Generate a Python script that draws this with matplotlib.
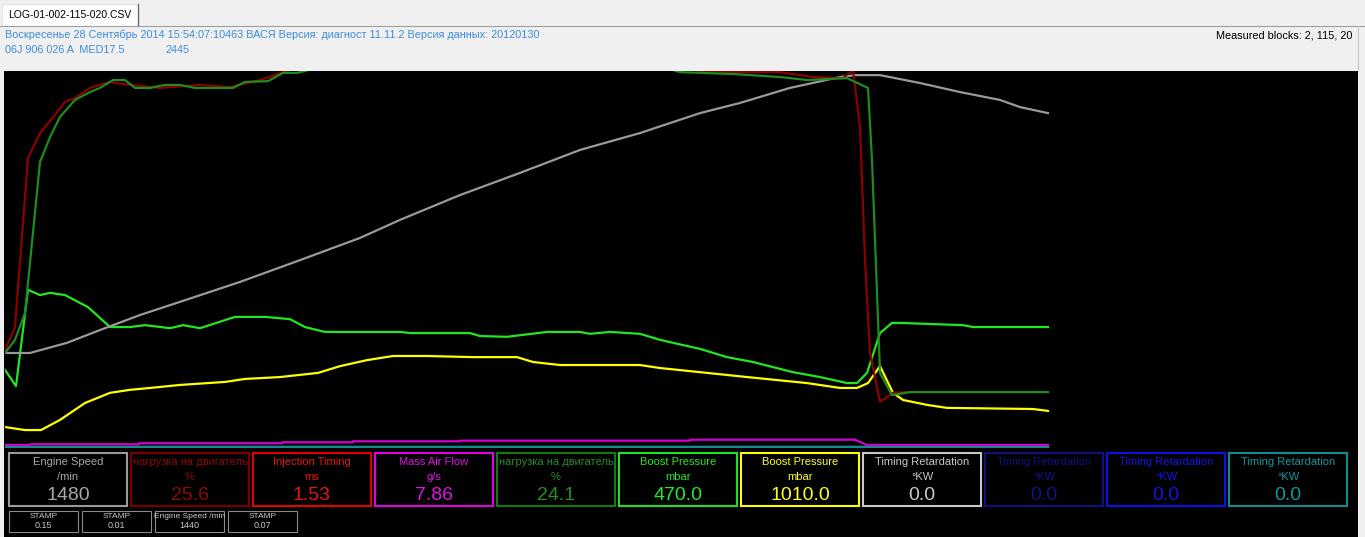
import matplotlib.pyplot as plt
from matplotlib.patches import Rectangle

#==============================================================================
#DATA  (time in s, values in % of the trace window height)
#==============================================================================

speed_t = [0, 1.25, 3.1, 4.75, 6.75, 8.75, 11.75, 14.75, 17.75, 19.75, 22.75, 25.75,
           28.75, 31.75, 34.75, 36.75, 39.25, 41.75, 42.5, 43.75, 45.75, 47.75,
           49.75, 50.75, 52.15]
speed_v = [25.0, 25.0, 27.7, 31.1, 35.1, 38.6, 43.9, 49.7, 55.6, 60.4, 67.0, 72.9,
           79.0, 83.5, 88.8, 91.5, 95.5, 98.4, 98.9, 98.9, 96.8, 94.4, 92.3, 90.4, 88.8]

load1_t = [0, 0.5, 1.15, 1.75, 2.5, 3.0, 3.5, 4.25, 5.25, 6.25, 7.75, 9.75, 11.25,
           12.75, 14.25, 15.75, 19.75, 29.75, 33.75, 34.75, 36.75, 38.75, 40.4, 41.9,
           42.4, 42.75, 43.0, 43.25, 43.75, 44.4, 45.25, 52.15]
load1_v = [25.8, 31.9, 76.9, 83.5, 88.3, 91.8, 92.8, 95.5, 97.1, 96.3, 95.5, 96.3, 95.7,
           97.6, 100.3, 102, 104, 104, 101, 100.0, 99.7, 99.7, 98.4, 98.1,
           100.3, 85.1, 49.7, 25.0, 12.0, 14.4, 14.6, 14.6]

load2_t = [0, 0.5, 1.0, 1.75, 2.25, 2.75, 3.5, 4.25, 4.75, 5.4, 6.0, 6.5, 7.25, 8.0,
           8.75, 9.5, 10.5, 11.4, 12.0, 13.15, 13.9, 14.6, 15.0, 16.25, 19.75, 31.75,
           33.75, 36.4, 38.75, 40.1, 42.1, 43.15, 43.35, 43.6, 43.75, 44.35, 45.25, 52.15]
load2_v = [25.0, 28.5, 35.6, 75.8, 82.4, 87.8, 92.3, 94.4, 95.5, 97.6, 97.6, 95.5, 95.5, 96.3,
           96.3, 95.5, 95.5, 95.5, 97.1, 97.3, 99.5, 99.5, 100, 102, 104, 103,
           99.7, 99.2, 98.4, 97.6, 98.1, 95.5, 76.3, 41.0, 19.7, 13.8, 14.6, 14.6]

boost_sp_t = [0, 0.55, 1.15, 1.75, 2.25, 3.0, 4.15, 5.25, 6.25, 7.0, 8.25, 8.9, 9.75,
              11.5, 13.0, 14.25, 15.0, 16.0, 19.75, 20.25, 23.25, 23.75, 25.1, 27.1,
              28.75, 29.25, 30.25, 31.75, 32.75, 33.9, 34.75, 36.1, 37.4, 39.4, 40.75,
              42.1, 42.6, 43.1, 43.75, 44.35, 44.75, 47.9, 48.4, 52.15]
boost_sp_v = [20.5, 16.2, 41.8, 40.4, 41.0, 40.4, 37.2, 31.9, 31.9, 32.4, 31.6, 32.4, 31.6,
              34.6, 34.6, 34.0, 31.9, 30.6, 30.6, 30.3, 30.3, 29.5, 29.3, 30.6,
              30.6, 30.1, 30.6, 30.1, 28.5, 27.1, 26.1, 23.9, 22.6, 19.9, 18.6,
              17.0, 17.0, 19.7, 30.3, 33.0, 33.0, 32.4, 31.9, 31.9]

boost_act_t = [0, 1.0, 1.8, 2.75, 4.0, 5.25, 6.25, 7.25, 8.75, 11.0, 12.0, 13.75, 15.65,
               16.75, 18.1, 19.4, 21.1, 23.4, 25.6, 26.4, 27.75, 31.75, 32.75, 34.75,
               37.1, 40.1, 41.75, 42.6, 43.15, 43.75, 44.4, 44.9, 46.1, 47.1, 51.4, 52.15]
boost_act_v = [5.3, 4.5, 4.5, 7.2, 11.7, 14.4, 15.2, 15.7, 16.5, 17.3, 18.1, 18.6, 19.7,
               21.5, 23.1, 24.2, 24.2, 23.9, 23.9, 22.6, 21.8, 21.8, 21.0, 19.9,
               18.6, 17.0, 15.7, 15.7, 17.0, 21.5, 14.4, 12.5, 11.2, 10.4, 10.1, 9.6]

maf_t = [0, 1.25, 1.25, 6.7, 6.7, 13.85, 13.85, 17.4, 17.4, 22.75, 22.75, 34.25, 34.25,
         42.5, 43.1, 52.15]
maf_v = [0.53, 0.53, 0.72, 0.72, 0.98, 0.98, 1.25, 1.25, 1.52, 1.52, 1.68, 1.68, 1.94,
         1.94, 0.53, 0.53]

retard_t = [0, 52.15]
retard_v = [0.0, 0.0]

# gauge row
g_titles = ['Engine Speed', 'нагрузка на двигатель', 'Injection Timing', 'Mass Air Flow',
            'нагрузка на двигатель', 'Boost Pressure', 'Boost Pressure',
            'Timing Retardation', 'Timing Retardation', 'Timing Retardation',
            'Timing Retardation']
g_units = ['/min', '%', 'ms', 'g/s', '%', 'mbar', 'mbar', '°KW', '°KW', '°KW', '°KW']
g_values = ['1480', '25.6', '1.53', '7.86', '24.1', '470.0', '1010.0', '0.0', '0.0',
            '0.0', '0.0']
g_edge = ['#9a9a9a', '#7a0000', '#e00000', '#e000e0', '#107a10', '#20e020', '#ffff00',
          '#c8c8c8', '#101080', '#1010e6', '#108c8c']
g_text = ['#a8a8a8', '#8c0a0a', '#e61414', '#e014e0', '#288c28', '#28e628', '#ffff1e',
          '#c8c8c8', '#121282', '#1414e6', '#149696']

# small stamp boxes
s_titles = ['STAMP', 'STAMP', 'Engine Speed /min', 'STAMP']
s_values = ['0.15', '0.01', '1440', '0.07']

header1 = ('Воскресенье 28 Сентябрь 2014 15:54:07:10463 ВАСЯ Версия: диагност 11.11.2 '
           'Версия данных: 20120130')
header2 = '06J 906 026 A  MED17.5'
header3 = '2445'
blocks = 'Measured blocks: 2, 115, 20'
tab_name = 'LOG-01-002-115-020.CSV'

#==============================================================================
#SETTINGS
#==============================================================================

plt.rcParams['font.family'] = ['Liberation Sans', 'DejaVu Sans']
W, H = 1365, 537
info_col = '#3d8bd8'

#==============================================================================
#PLOTTING
#==============================================================================

f = plt.figure(figsize=(W / 100, H / 100), dpi=100, facecolor='#f0f0f0')

# window chrome in pixel coordinates
ui = f.add_axes([0, 0, 1, 1])
ui.set_xlim(0, W)
ui.set_ylim(H, 0)
ui.axis('off')

ui.plot([0, W], [25.5, 25.5], color='#a0a0a0', lw=0.8)
ui.add_patch(Rectangle((2, 4), 136, 22, fc='white', ec='none'))
ui.plot([2, 2, 138], [25, 4, 4], color='#e3e3e3', lw=0.8)
ui.plot([138, 138], [4, 25], color='#696969', lw=1.0)
ui.text(8, 14.5, tab_name, fontsize=7.5, color='black', va='center')
ui.plot([1358, 1358], [26, 71], color='#c8c8c8', lw=0.8)

ui.text(5, 35, header1, fontsize=7.8, color=info_col, va='center')
ui.text(5, 50, header2, fontsize=7.8, color=info_col, va='center')
ui.text(165, 50, header3, fontsize=7.8, color=info_col, va='center')
ui.text(1352, 35, blocks, fontsize=7.8, color='black', va='center', ha='right')

ui.add_patch(Rectangle((4, 71), 1354, 466, fc='black', ec='none'))

# gauges
for i in range(len(g_titles)):
    x0 = 8 + 122 * i
    ui.add_patch(Rectangle((x0 + 1, 453), 118, 53, fc='none', ec=g_edge[i], lw=1.5))
    ui.text(x0 + 60, 462, g_titles[i], fontsize=8, color=g_text[i], ha='center', va='center')
    ui.text(x0 + 60, 476.5, g_units[i], fontsize=8, color=g_text[i], ha='center', va='center')
    ui.text(x0 + 60, 495, g_values[i], fontsize=14, color=g_text[i], ha='center', va='center')

for i in range(len(s_titles)):
    x0 = 9 + 73 * i
    ui.add_patch(Rectangle((x0, 511), 69, 21, fc='none', ec='#8a8a8a', lw=0.8))
    ui.text(x0 + 34.5, 517, s_titles[i], fontsize=6, color='#c8c8c8', ha='center', va='center')
    ui.text(x0 + 34.5, 525.5, s_values[i], fontsize=6.5, color='#c8c8c8', ha='center', va='center')

# trace window
ax = f.add_axes([5 / W, 89 / H, 1353 / W, 377 / H])
ax.set_facecolor('none')
ax.axis('off')
ax.set_xlim(0, 67.65)
ax.set_ylim(-0.27, 100)

lw = 1.6
ax.plot(retard_t, retard_v, color='#c8c8c8', lw=lw)
ax.plot(retard_t, retard_v, color='#1010e6', lw=lw)
ax.plot(retard_t, retard_v, color='#108c8c', lw=lw)
ax.plot(maf_t, maf_v, color='#d000d0', lw=lw)
ax.plot(boost_act_t, boost_act_v, color='#ffff00', lw=lw)
ax.plot(boost_sp_t, boost_sp_v, color='#22e622', lw=lw)
ax.plot(speed_t, speed_v, color='#9a9a9a', lw=lw)
ax.plot(load1_t, load1_v, color='#8b0000', lw=lw)
ax.plot(load2_t, load2_v, color='#1e8c1e', lw=lw)

f.savefig('out.png', dpi=100, facecolor=f.get_facecolor())
